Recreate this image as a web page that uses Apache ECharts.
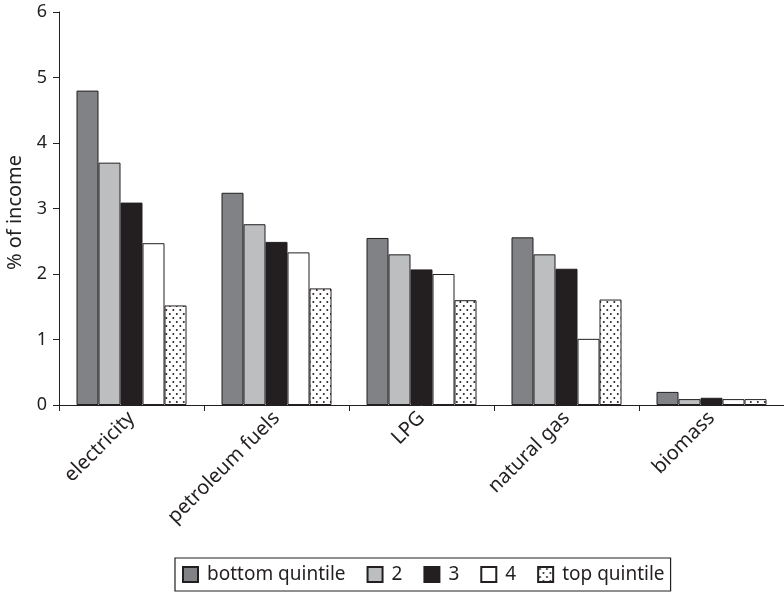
<!DOCTYPE html>
<html>
<head>
<meta charset="utf-8">
<script src="https://cdn.jsdelivr.net/npm/echarts@6/dist/echarts.min.js"></script>
<style>
html,body{margin:0;padding:0;background:#fff;}
#chart{width:784px;height:593px;}
</style>
</head>
<body>
<div id="chart"></div>
<script>
var categories = ['electricity', 'petroleum fuels', 'LPG', 'natural gas', 'biomass'];
var seriesNames = ['bottom quintile', '2', '3', '4', 'top quintile'];
var bottomQuintile = [4.80, 3.24, 2.55, 2.56, 0.20];
var quintile2 = [3.70, 2.76, 2.30, 2.30, 0.09];
var quintile3 = [3.09, 2.49, 2.07, 2.08, 0.11];
var quintile4 = [2.47, 2.33, 2.00, 1.01, 0.09];
var topQuintile = [1.52, 1.78, 1.60, 1.61, 0.09];
var yTicks = [0, 1, 2, 3, 4, 5, 6];

var ink = '#231f20';
var font = '"Noto Sans", sans-serif';

function makeDots() {
  var c = document.createElement('canvas');
  c.width = 7; c.height = 8;
  var g = c.getContext('2d');
  g.fillStyle = '#ffffff';
  g.fillRect(0, 0, 7, 8);
  g.fillStyle = ink;
  g.beginPath(); g.arc(1.8, 2, 1.0, 0, Math.PI * 2); g.fill();
  g.beginPath(); g.arc(5.3, 6, 1.0, 0, Math.PI * 2); g.fill();
  return c;
}
var dots = { image: makeDots(), repeat: 'repeat' };

var values = [bottomQuintile, quintile2, quintile3, quintile4, topQuintile];
var fills = ['#808285', '#bcbec0', ink, '#ffffff', dots];

var series = seriesNames.map(function (n, i) {
  return {
    name: n,
    type: 'bar',
    data: values[i],
    barWidth: 22,
    barGap: '0%',
    itemStyle: { color: fills[i], borderColor: ink, borderWidth: 1 },
    emphasis: { disabled: true },
    animation: false
  };
});

var chart = echarts.init(document.getElementById('chart'), null, { renderer: 'canvas' });
chart.setOption({
  animation: false,
  backgroundColor: '#ffffff',
  grid: { left: 59, right: 0, top: 12, bottom: 188, containLabel: false, outerBoundsMode: 'none' },
  legend: {
    data: seriesNames,
    left: 175,
    top: 558,
    orient: 'horizontal',
    icon: 'rect',
    itemWidth: 15,
    itemHeight: 15,
    itemGap: 21,
    padding: [7, 6, 7, 7],
    borderColor: ink,
    borderWidth: 1.2,
    textStyle: { fontFamily: font, fontSize: 19, color: ink, padding: [0, 0, 0, 4] },
    selectedMode: false
  },
  xAxis: {
    type: 'category',
    data: categories,
    axisLine: { lineStyle: { color: ink, width: 1 } },
    axisTick: { show: true, length: 6, lineStyle: { color: ink } },
    axisLabel: { rotate: 45, fontFamily: font, fontSize: 20, color: ink, margin: 10 }
  },
  yAxis: {
    type: 'value',
    min: yTicks[0],
    max: yTicks[yTicks.length - 1],
    interval: 1,
    name: '% of income',
    nameLocation: 'middle',
    nameGap: 34,
    nameRotate: 90,
    nameTextStyle: { fontFamily: font, fontSize: 20, color: ink, padding: [0, 8, 0, 0] },
    splitLine: { show: false },
    axisLine: { show: true, lineStyle: { color: ink, width: 1 } },
    axisTick: { show: true, length: 6, lineStyle: { color: ink } },
    axisLabel: { fontFamily: font, fontSize: 18, color: ink, margin: 12 }
  },
  series: series
});
</script>
</body>
</html>
